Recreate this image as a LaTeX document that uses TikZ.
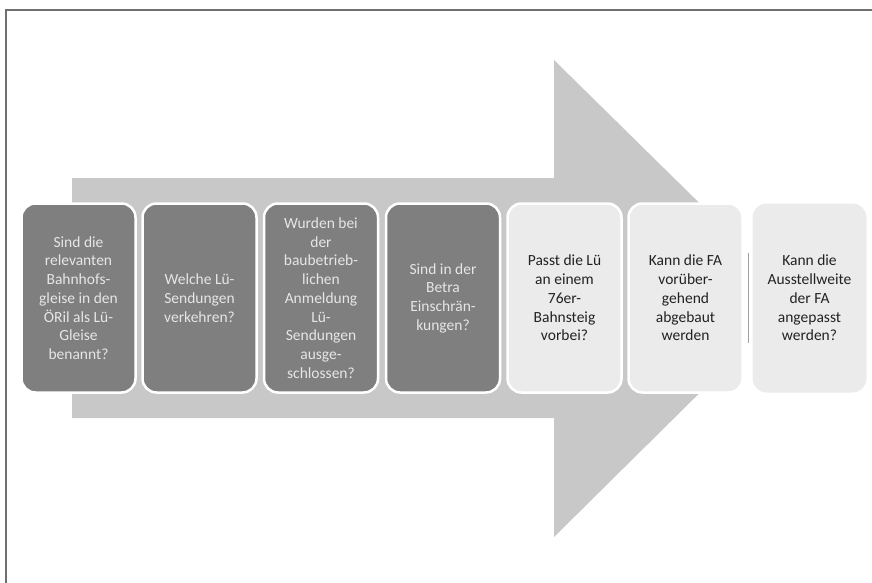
\documentclass[tikz,border=0pt]{standalone}
\usepackage{fontspec}
\setmainfont{Carlito}
\definecolor{arrowgray}{HTML}{C8C8C8}
\definecolor{darkbox}{HTML}{7F7F7F}
\definecolor{lightbox}{HTML}{EBEBEB}
\definecolor{darktext}{HTML}{E6E6E6}
\definecolor{lighttext}{HTML}{222222}
\definecolor{framegray}{HTML}{707070}
\definecolor{tipgray}{HTML}{A0A0A0}
\begin{document}
\begin{tikzpicture}[x=1pt,y=-1pt,
  stepbox/.style={rectangle, rounded corners=14pt, minimum width=114pt, minimum height=189pt,
    inner sep=0pt, align=center, font=\fontsize{15.5}{18.7}\selectfont},
  darkstep/.style={stepbox, fill=darkbox, draw=white, line width=2.5pt, text=darktext},
  lightstep/.style={stepbox, fill=lightbox, draw=white, line width=2.5pt, text=lighttext},
  laststep/.style={stepbox, fill=lightbox, text=lighttext}]
\useasboundingbox (0,0) rectangle (872,583);
% frame
\draw[framegray, line width=2pt] (6,583) -- (6,10) -- (872,10);
% big arrow (tip cut off behind the boxes)
\fill[arrowgray] (72,178) -- (554,178) -- (554,60) -- (742,245) -- (742,351) -- (554,537) -- (554,418) -- (72,418) -- cycle;
% boxes
\node[darkstep] (b1) at (78.5,298) {Sind die\\relevanten\\Bahnhofs-\\gleise in den\\ÖRil als Lü-\\Gleise\\benannt?};
\node[darkstep] (b2) at (199.5,298) {Welche Lü-\\Sendungen\\verkehren?};
\node[darkstep] (b3) at (321,298) {Wurden bei\\der\\baubetrieb-\\lichen\\Anmeldung\\Lü-\\Sendungen\\ausge-\\schlossen?};
\node[darkstep] (b4) at (443,298) {Sind in der\\Betra\\Einschrän-\\kungen?};
\node[lightstep] (b5) at (564.5,298) {Passt die Lü\\an einem\\76er-\\Bahnsteig\\vorbei?};
\node[lightstep] (b6) at (685.5,298) {Kann die FA\\vorüber-\\gehend\\abgebaut\\werden};
\node[laststep] (b7) at (809.5,298) {Kann die\\Ausstellweite\\der FA\\angepasst\\werden?};
% arrow tip edge between the last two boxes
\draw[tipgray, line width=1.2pt] (748.5,253) -- (748.5,343);
\end{tikzpicture}
\end{document}
